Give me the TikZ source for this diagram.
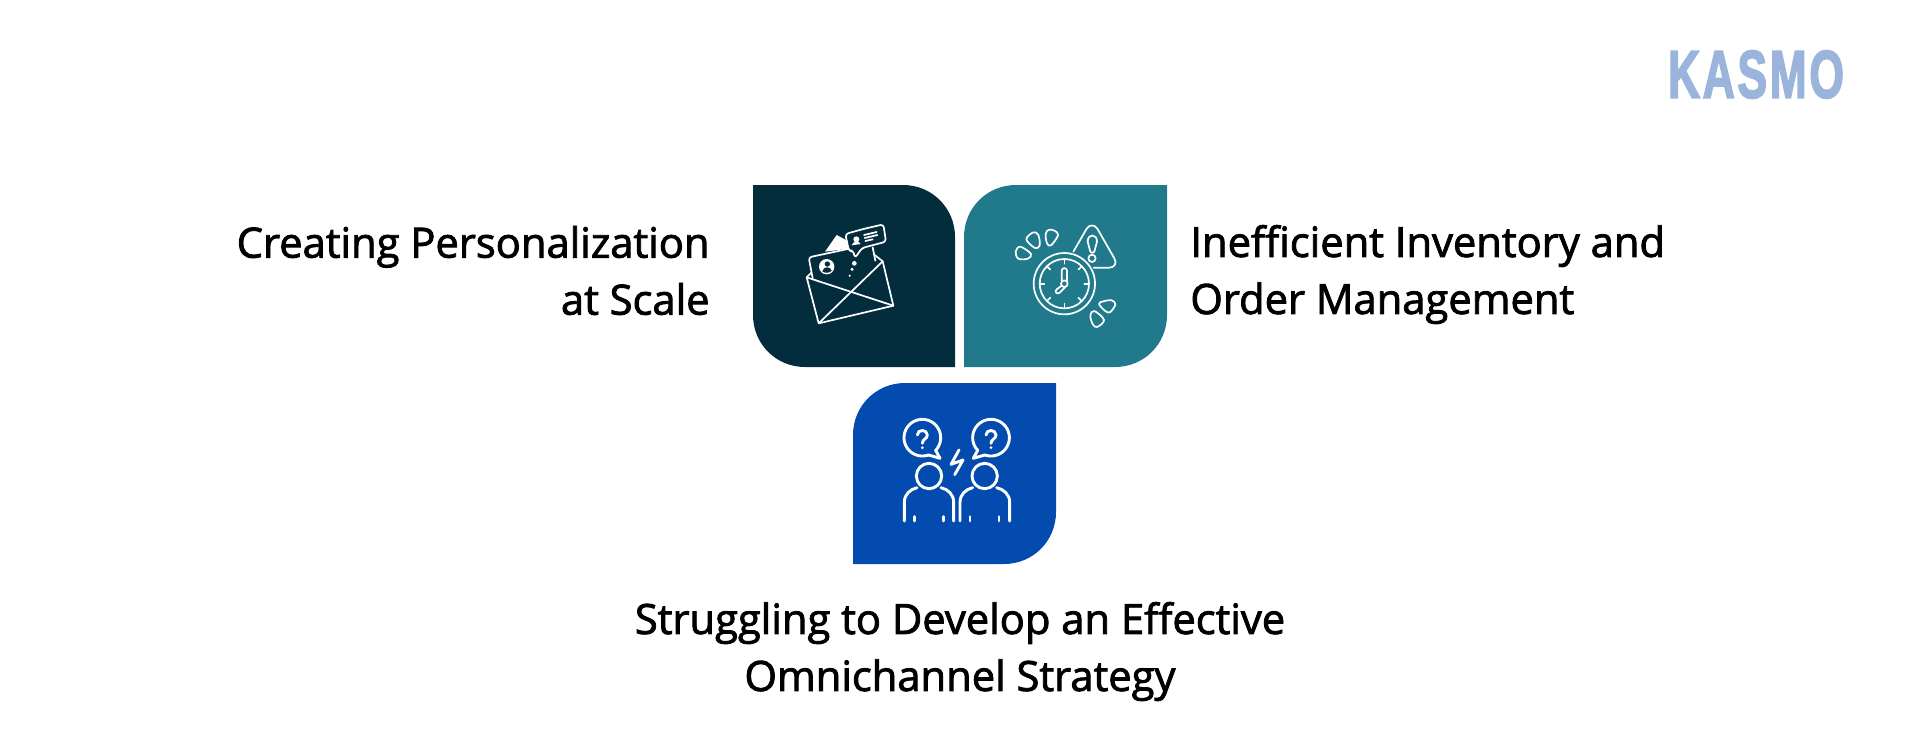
\documentclass[tikz,border=0pt]{standalone}
\usepackage{fontspec}
\setmainfont{Open Sans}[FakeBold=2,Ligatures=NoCommon]
\newfontfamily\logofont{Liberation Sans Bold}[FakeBold=3,LetterSpace=6]
\usetikzlibrary{calc}
\definecolor{cdark}{HTML}{032D3C}
\definecolor{cteal}{HTML}{207A8C}
\definecolor{cblue}{HTML}{034BAE}
\definecolor{clogo}{HTML}{9AB4DB}
\tikzset{
  caption/.style={font=\fontsize{20.85}{28.5}\selectfont,text=black,inner sep=0pt},
  icon/.style={draw=white,line width=0.85pt,line join=round,line cap=round,fill=none},
  iconb/.style={draw=white,line width=1.45pt,line join=round,line cap=round,fill=none},
}
\begin{document}
\begin{tikzpicture}[x=0.5pt,y=-0.5pt]
\useasboundingbox (0,0) rectangle (1920,750);
% tiles
\fill[cdark] (753,185) -- (903,185) .. controls (932,185) and (955,208) .. (955,237) -- (955,367) -- (805,367) .. controls (776,367) and (753,344) .. (753,315) -- cycle;
\fill[cteal] (1167,185) -- (1016,185) .. controls (987,185) and (964,208) .. (964,237) -- (964,367) -- (1115,367) .. controls (1144,367) and (1167,344) .. (1167,315) -- cycle;
\fill[cblue] (1056,383) -- (905,383) .. controls (876,383) and (853,406) .. (853,435) -- (853,564) -- (1004,564) .. controls (1033,564) and (1056,541) .. (1056,512) -- cycle;
% captions
\node[caption,align=right,anchor=east] (capa) at (710,270.5) {Creating Personalization\\at Scale};
\node[caption,align=left,anchor=west] (capb) at (1190,274.5) {Inefficient Inventory and\\Order Management};
\node[caption,align=center,anchor=center] (capc) at (960,651.5) {Struggling to Develop an Effective\\Omnichannel Strategy};
% logo
\node[inner sep=0pt,anchor=center,text=clogo] (logo) at (1756,74.5) {\resizebox{88pt}{23.5pt}{\logofont KASMO}};
% icon 1: envelope
\begin{scope}[shift={(740,170)},x=0.16667pt,y=-0.16667pt]
\draw[icon] (200,322) -- (236,460) -- (460,407) -- (428,274) -- (404,255);
\draw[icon] (200,322) -- (460,407);
\draw[icon] (236,460) -- (428,274);
\draw[icon] (200,322) -- (214,308);
\draw[icon,rounded corners=1.5pt] (218,325) -- (206,262) -- (328,236);
\draw[icon] (398,232) -- (406,272);
\fill[white] (255,245) -- (290,195) -- (318,210) -- (326,236) -- cycle;
\draw[icon,fill=cdark,rounded corners=1.5pt] (370,177) -- (430,163) -- (438,215) -- (366,234) -- (345,264) -- (339,241) -- (327,244) -- (316,192) -- cycle;
\fill[white] (349,208) circle[radius=9];
\fill[white] (335,226) .. controls (338,212) and (358,212) .. (362,222) -- cycle;
\draw[icon] (372,195) -- (410,186) (374,204) -- (412,195) (376,213) -- (398,208);
\fill[white] (343,280) circle[radius=7] (336,298) circle[radius=5] (329,317) circle[radius=3.5];
\fill[white] (260,290) circle[radius=23];
\fill[cdark] (262,282) circle[radius=8];
\fill[cdark] (247,304) .. controls (250,288) and (272,288) .. (275,302) .. controls (268,310) and (254,310) .. cycle;
\end{scope}
% icon 2: clock
\begin{scope}[shift={(955,170)},x=0.16667pt,y=-0.16667pt]
\coordinate (ck) at (328,341);
\draw[icon] (ck) circle[radius=92];
\draw[icon] (ck) circle[radius=74];
\foreach \a in {0,45,...,315}{\draw[icon] ($(ck)+(\a:74)$) -- ($(ck)+(\a:60)$);}
\draw[icon] (ck) circle[radius=10];
\draw[icon] (320,332) -- (320,302) .. controls (320,292) and (336,292) .. (336,302) -- (336,332);
\draw[icon] (320,347) -- (305,358) .. controls (297,365) and (306,375) .. (314,368) -- (331,351);
\draw[icon] (355,245) -- (395,176) .. controls (403,163) and (419,163) .. (427,176) -- (478,265) .. controls (487,280) and (478,293) .. (462,293) -- (416,293);
\draw[icon] (398,215) .. controls (398,190) and (426,190) .. (426,215) -- (418,245) .. controls (416,250) and (408,250) .. (406,245) -- cycle;
\draw[icon] (411,265) circle[radius=11];
% drops
\draw[icon] plot[smooth cycle,tension=0.6] coordinates {(182,245) (196,230) (228,252) (218,266) (190,266)};
\draw[icon] plot[smooth cycle,tension=0.6] coordinates {(214,208) (235,187) (250,195) (254,226) (240,234)};
\draw[icon] plot[smooth cycle,tension=0.6] coordinates {(272,192) (282,179) (300,183) (309,196) (288,226) (276,220)};
\draw[icon] plot[smooth cycle,tension=0.6] coordinates {(432,402) (445,394) (470,391) (481,403) (466,426) (452,424)};
\draw[icon] plot[smooth cycle,tension=0.6] coordinates {(406,436) (418,423) (447,450) (426,471) (413,462)};
\end{scope}
% icon 3: people
\begin{scope}[shift={(845,375)},x=0.16667pt,y=-0.16667pt]
\draw[iconb] plot[domain=44:-290,samples=70,smooth] ({232+55*cos(\x)},{188+55*sin(\x)});
\draw[iconb] plot[domain=136:470,samples=70,smooth] ({438+55*cos(\x)},{188+55*sin(\x)});
\draw[iconb] (272,226) -- (285,250) -- (251,240);
\draw[iconb] (398,226) -- (385,250) -- (419,240);
\foreach \cx in {232,438}{
  \draw[iconb] (\cx-15,180) .. controls (\cx-15,162) and (\cx+15,162) .. (\cx+15,180) .. controls (\cx+15,192) and (\cx,192) .. (\cx,205);
  \fill[white] (\cx,218) circle[radius=4.5];
}
\draw[iconb] (252,303) circle[radius=38];
\draw[iconb] (419,303) circle[radius=38];
\draw[iconb] (178,438) -- (178,382) .. controls (178,358) and (195,343) .. (216,338);
\draw[iconb] (288,338) .. controls (309,343) and (326,358) .. (326,382) -- (326,438);
\draw[iconb] (345,438) -- (345,382) .. controls (345,358) and (362,343) .. (383,338);
\draw[iconb] (455,338) .. controls (476,343) and (494,358) .. (494,382) -- (494,438);
\foreach \tx in {208,295,375,462}{\draw[iconb] (\tx,425) -- (\tx,438);}
\draw[iconb] (342,225) -- (318,268) -- (354,255) -- (329,299);
\end{scope}
\end{tikzpicture}
\end{document}
